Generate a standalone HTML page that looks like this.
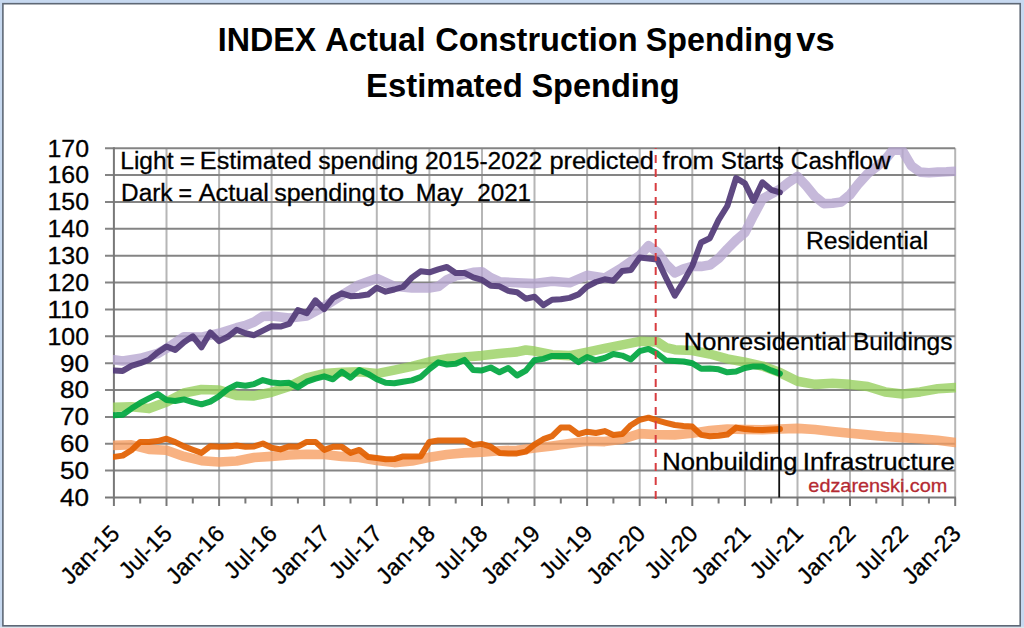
<!DOCTYPE html>
<html><head><meta charset="utf-8"><style>
html,body{margin:0;padding:0;background:#fff;}
svg{display:block;}
</style></head><body>
<svg width="1024" height="628" viewBox="0 0 1024 628">
<rect x="0" y="0" width="1024" height="628" fill="#c7d9f0"/>
<rect x="0" y="626.8" width="1024" height="1.2" fill="#dfe4ea"/>
<rect x="2.9" y="3.7" width="1017.3" height="622.1" fill="#ffffff" stroke="#5e6875" stroke-width="1.6"/>
<g stroke="#b6b6b6" stroke-width="2"><line x1="166.5" y1="148.2" x2="166.5" y2="497.5"/><line x1="219.1" y1="148.2" x2="219.1" y2="497.5"/><line x1="271.6" y1="148.2" x2="271.6" y2="497.5"/><line x1="324.2" y1="148.2" x2="324.2" y2="497.5"/><line x1="376.8" y1="148.2" x2="376.8" y2="497.5"/><line x1="429.4" y1="148.2" x2="429.4" y2="497.5"/><line x1="482.0" y1="148.2" x2="482.0" y2="497.5"/><line x1="534.5" y1="148.2" x2="534.5" y2="497.5"/><line x1="587.1" y1="148.2" x2="587.1" y2="497.5"/><line x1="639.7" y1="148.2" x2="639.7" y2="497.5"/><line x1="692.3" y1="148.2" x2="692.3" y2="497.5"/><line x1="744.9" y1="148.2" x2="744.9" y2="497.5"/><line x1="797.5" y1="148.2" x2="797.5" y2="497.5"/><line x1="850.0" y1="148.2" x2="850.0" y2="497.5"/><line x1="902.6" y1="148.2" x2="902.6" y2="497.5"/><line x1="955.2" y1="148.2" x2="955.2" y2="497.5"/></g>
<g stroke="#848484" stroke-width="2"><line x1="105" y1="470.6" x2="955.2" y2="470.6"/><line x1="105" y1="443.8" x2="955.2" y2="443.8"/><line x1="105" y1="416.9" x2="955.2" y2="416.9"/><line x1="105" y1="390.0" x2="955.2" y2="390.0"/><line x1="105" y1="363.2" x2="955.2" y2="363.2"/><line x1="105" y1="336.3" x2="955.2" y2="336.3"/><line x1="105" y1="309.4" x2="955.2" y2="309.4"/><line x1="105" y1="282.5" x2="955.2" y2="282.5"/><line x1="105" y1="255.7" x2="955.2" y2="255.7"/><line x1="105" y1="228.8" x2="955.2" y2="228.8"/><line x1="105" y1="201.9" x2="955.2" y2="201.9"/><line x1="105" y1="175.1" x2="955.2" y2="175.1"/><line x1="105" y1="148.2" x2="955.2" y2="148.2"/></g>
<g stroke="#787878" stroke-width="2"><line x1="105" y1="497.5" x2="956" y2="497.5"/><line x1="113.9" y1="147.2" x2="113.9" y2="506.0"/><line x1="166.5" y1="497.5" x2="166.5" y2="506.0"/><line x1="219.1" y1="497.5" x2="219.1" y2="506.0"/><line x1="271.6" y1="497.5" x2="271.6" y2="506.0"/><line x1="324.2" y1="497.5" x2="324.2" y2="506.0"/><line x1="376.8" y1="497.5" x2="376.8" y2="506.0"/><line x1="429.4" y1="497.5" x2="429.4" y2="506.0"/><line x1="482.0" y1="497.5" x2="482.0" y2="506.0"/><line x1="534.5" y1="497.5" x2="534.5" y2="506.0"/><line x1="587.1" y1="497.5" x2="587.1" y2="506.0"/><line x1="639.7" y1="497.5" x2="639.7" y2="506.0"/><line x1="692.3" y1="497.5" x2="692.3" y2="506.0"/><line x1="744.9" y1="497.5" x2="744.9" y2="506.0"/><line x1="797.5" y1="497.5" x2="797.5" y2="506.0"/><line x1="850.0" y1="497.5" x2="850.0" y2="506.0"/><line x1="902.6" y1="497.5" x2="902.6" y2="506.0"/><line x1="955.2" y1="497.5" x2="955.2" y2="506.0"/><line x1="140.2" y1="497.5" x2="140.2" y2="503.5"/><line x1="192.8" y1="497.5" x2="192.8" y2="503.5"/><line x1="245.4" y1="497.5" x2="245.4" y2="503.5"/><line x1="297.9" y1="497.5" x2="297.9" y2="503.5"/><line x1="350.5" y1="497.5" x2="350.5" y2="503.5"/><line x1="403.1" y1="497.5" x2="403.1" y2="503.5"/><line x1="455.7" y1="497.5" x2="455.7" y2="503.5"/><line x1="508.3" y1="497.5" x2="508.3" y2="503.5"/><line x1="560.8" y1="497.5" x2="560.8" y2="503.5"/><line x1="613.4" y1="497.5" x2="613.4" y2="503.5"/><line x1="666.0" y1="497.5" x2="666.0" y2="503.5"/><line x1="718.6" y1="497.5" x2="718.6" y2="503.5"/><line x1="771.2" y1="497.5" x2="771.2" y2="503.5"/><line x1="823.7" y1="497.5" x2="823.7" y2="503.5"/><line x1="876.3" y1="497.5" x2="876.3" y2="503.5"/><line x1="928.9" y1="497.5" x2="928.9" y2="503.5"/></g>
<defs><clipPath id="pc"><rect x="113" y="147.2" width="843" height="351.3"/></clipPath></defs>
<g clip-path="url(#pc)" fill="none" stroke-linejoin="round" stroke-linecap="round">
<polyline points="113.9,359.7 122.7,361.0 140.2,358.3 157.7,353.5 166.5,348.4 184.0,336.8 201.5,337.1 219.1,333.3 236.6,327.7 245.4,325.5 254.1,322.0 262.9,316.4 271.6,316.1 289.2,318.0 306.7,315.9 324.2,306.5 341.8,295.2 359.3,284.7 376.8,278.5 394.3,286.3 411.9,287.9 429.4,287.9 438.2,286.6 446.9,279.9 455.7,275.8 464.4,274.5 473.2,272.3 482.0,271.8 490.7,277.7 499.5,281.7 517.0,282.8 534.5,283.6 552.1,281.2 569.6,282.8 587.1,275.3 604.7,278.0 622.2,267.5 639.7,255.4 648.5,245.7 657.2,251.9 666.0,264.0 674.8,272.9 683.5,268.8 692.3,266.4 701.1,266.4 709.8,265.1 718.6,258.4 727.3,249.0 736.1,240.1 744.9,232.6 753.6,215.4 762.4,199.0 771.2,193.9 779.9,189.3 788.7,182.3 797.5,176.4 806.2,185.8 815.0,196.6 823.7,203.6 832.5,203.3 841.3,201.9 850.0,194.7 858.8,183.4 867.6,173.7 876.3,167.0 885.1,159.8 893.9,148.7 902.6,150.9 911.4,165.9 920.1,172.1 928.9,172.7 937.7,172.1 946.4,171.8 955.2,171.3" stroke="#b6a5d0" stroke-opacity="0.78" stroke-width="9.6"/>
<polyline points="113.9,407.2 131.4,406.7 149.0,408.6 166.5,402.1 184.0,393.0 201.5,389.5 219.1,390.0 236.6,395.4 254.1,395.9 271.6,392.2 289.2,386.5 306.7,377.9 324.2,373.6 341.8,372.3 359.3,371.8 376.8,373.6 394.3,370.1 411.9,366.4 429.4,361.8 446.9,358.6 464.4,357.0 482.0,355.6 499.5,353.5 517.0,351.9 525.8,350.0 534.5,351.1 552.1,354.8 569.6,355.6 587.1,352.1 604.7,348.4 622.2,344.9 639.7,341.4 657.2,341.9 666.0,347.6 674.8,349.7 692.3,350.5 709.8,354.0 727.3,358.9 744.9,362.1 762.4,366.1 779.9,372.6 797.5,381.2 815.0,384.4 832.5,383.3 850.0,384.4 867.6,386.5 885.1,391.9 902.6,394.1 920.1,391.9 937.7,388.7 955.2,387.6" stroke="#95ce5b" stroke-opacity="0.78" stroke-width="9.6"/>
<polyline points="113.9,445.4 131.4,444.8 149.0,449.4 166.5,450.2 184.0,456.4 201.5,460.7 219.1,462.0 236.6,461.0 254.1,457.5 271.6,456.4 289.2,455.0 306.7,454.2 324.2,454.5 341.8,456.4 359.3,457.5 376.8,460.4 394.3,462.6 411.9,461.0 429.4,457.2 446.9,454.5 464.4,452.9 482.0,452.1 499.5,450.7 517.0,450.2 534.5,448.1 552.1,445.9 569.6,443.5 587.1,441.3 604.7,441.6 622.2,439.2 639.7,433.6 657.2,434.6 674.8,434.9 692.3,433.3 709.8,430.6 727.3,429.0 744.9,429.5 762.4,429.8 779.9,429.0 797.5,428.4 815.0,429.5 832.5,431.4 850.0,433.3 867.6,434.9 885.1,436.5 902.6,437.6 920.1,438.7 937.7,440.3 955.2,442.4" stroke="#f69c5f" stroke-opacity="0.78" stroke-width="9.6"/>
<polyline points="113.9,370.4 122.7,370.9 131.4,365.8 140.2,363.2 149.0,359.7 157.7,352.4 166.5,346.5 175.2,350.0 184.0,342.2 192.8,336.3 201.5,347.3 210.3,332.5 219.1,341.1 227.8,336.8 236.6,329.8 245.4,333.3 254.1,335.2 262.9,330.6 271.6,326.3 280.4,326.6 289.2,323.9 297.9,310.0 306.7,313.2 315.5,300.3 324.2,309.1 333.0,297.9 341.8,293.3 350.5,296.2 359.3,295.7 368.0,294.6 376.8,287.7 385.6,291.7 394.3,289.5 403.1,286.8 411.9,277.7 420.6,271.3 429.4,272.3 438.2,269.4 446.9,267.0 455.7,272.9 464.4,272.9 473.2,277.4 482.0,279.9 490.7,285.8 499.5,286.3 508.3,290.9 517.0,292.2 525.8,298.7 534.5,296.8 543.3,305.1 552.1,299.7 560.8,299.2 569.6,297.9 578.4,294.4 587.1,286.6 595.9,282.0 604.7,279.3 613.4,280.7 622.2,271.0 630.9,269.9 639.7,257.6 648.5,258.4 657.2,259.4 666.0,278.0 674.8,295.7 683.5,281.7 692.3,265.9 701.1,242.5 709.8,238.2 718.6,219.9 727.3,206.0 736.1,178.0 744.9,183.4 753.6,200.9 762.4,182.3 771.2,189.8 779.9,192.3" stroke="#513a77" stroke-opacity="0.92" stroke-width="6.0"/>
<polyline points="113.9,415.3 122.7,414.7 131.4,408.6 140.2,402.9 149.0,398.4 157.7,394.1 166.5,400.0 175.2,401.0 184.0,399.4 192.8,402.1 201.5,404.3 210.3,401.6 219.1,396.2 227.8,389.2 236.6,384.6 245.4,385.7 254.1,384.1 262.9,380.1 271.6,382.5 280.4,383.3 289.2,382.8 297.9,387.3 306.7,381.7 315.5,378.7 324.2,376.3 333.0,379.3 341.8,371.8 350.5,377.7 359.3,370.1 368.0,373.9 376.8,379.3 385.6,382.8 394.3,383.3 403.1,381.7 411.9,380.4 420.6,377.1 429.4,369.1 438.2,362.3 446.9,364.5 455.7,363.7 464.4,359.9 473.2,369.9 482.0,370.4 490.7,367.5 499.5,372.3 508.3,368.0 517.0,375.5 525.8,370.7 534.5,360.2 543.3,358.9 552.1,355.9 560.8,355.9 569.6,355.9 578.4,362.1 587.1,357.0 595.9,360.2 604.7,358.0 613.4,354.0 622.2,355.6 630.9,359.4 639.7,351.1 648.5,348.9 657.2,353.5 666.0,360.5 674.8,361.0 683.5,361.5 692.3,363.2 701.1,368.8 709.8,368.5 718.6,369.3 727.3,372.3 736.1,371.5 744.9,368.0 753.6,366.4 762.4,366.6 771.2,370.4 779.9,373.6" stroke="#00a640" stroke-opacity="0.92" stroke-width="6.0"/>
<polyline points="113.9,456.9 122.7,455.6 131.4,450.2 140.2,441.9 149.0,441.9 157.7,441.1 166.5,438.7 175.2,442.1 184.0,446.4 192.8,449.7 201.5,452.9 210.3,446.2 219.1,446.7 227.8,446.4 236.6,445.6 245.4,446.7 254.1,446.4 262.9,443.5 271.6,447.8 280.4,449.4 289.2,446.4 297.9,446.7 306.7,441.9 315.5,441.9 324.2,449.9 333.0,446.7 341.8,446.7 350.5,452.9 359.3,449.9 368.0,456.9 376.8,458.0 385.6,459.3 394.3,459.1 403.1,456.4 411.9,456.4 420.6,456.4 429.4,441.9 438.2,440.5 446.9,440.5 455.7,440.5 464.4,440.5 473.2,445.1 482.0,444.0 490.7,446.7 499.5,452.9 508.3,453.4 517.0,453.4 525.8,451.6 534.5,444.6 543.3,439.2 552.1,436.2 560.8,427.6 569.6,427.6 578.4,434.1 587.1,431.7 595.9,433.0 604.7,431.1 613.4,434.9 622.2,434.1 630.9,425.2 639.7,419.8 648.5,417.7 657.2,420.4 666.0,422.8 674.8,425.0 683.5,426.0 692.3,426.6 701.1,434.9 709.8,436.2 718.6,435.7 727.3,434.6 736.1,427.6 744.9,429.0 753.6,429.8 762.4,430.1 771.2,429.5 779.9,429.0" stroke="#e25f00" stroke-opacity="0.92" stroke-width="6.0"/>
</g>
<line x1="655.7" y1="499.0" x2="655.7" y2="148" stroke="#d83c40" stroke-width="2" stroke-dasharray="8 6"/>
<line x1="779.2" y1="146.7" x2="779.2" y2="497.5" stroke="#111" stroke-width="1.8"/>
<g font-family="'Liberation Sans', sans-serif">
<text x="217.85" y="51.3" font-size="33" text-anchor="start" fill="#000" font-weight="bold" textLength="98.49" lengthAdjust="spacingAndGlyphs" >INDEX</text>
<text x="325.0" y="51.3" font-size="33" text-anchor="start" fill="#000" font-weight="bold" textLength="100.55" lengthAdjust="spacingAndGlyphs" >Actual</text>
<text x="435.31" y="51.3" font-size="33" text-anchor="start" fill="#000" font-weight="bold" textLength="202.28" lengthAdjust="spacingAndGlyphs" >Construction</text>
<text x="645.82" y="51.3" font-size="33" text-anchor="start" fill="#000" font-weight="bold" textLength="146.85" lengthAdjust="spacingAndGlyphs" >Spending</text>
<text x="796.3" y="51.3" font-size="33" text-anchor="start" fill="#000" font-weight="bold" textLength="38.5" lengthAdjust="spacingAndGlyphs" >vs</text>
<text x="366.11" y="96.9" font-size="33" text-anchor="start" fill="#000" font-weight="bold" textLength="156.69" lengthAdjust="spacingAndGlyphs" >Estimated</text>
<text x="531.41" y="96.9" font-size="33" text-anchor="start" fill="#000" font-weight="bold" textLength="148.28" lengthAdjust="spacingAndGlyphs" >Spending</text>
<text x="120.31" y="168.8" font-size="23.5" text-anchor="start" fill="#000" font-weight="normal" stroke="#000" stroke-width="0.3" textLength="53.15" lengthAdjust="spacingAndGlyphs" >Light</text>
<text x="179.8" y="168.8" font-size="23.5" text-anchor="start" fill="#000" font-weight="normal" stroke="#000" stroke-width="0.3" textLength="15.11" lengthAdjust="spacingAndGlyphs" >=</text>
<text x="199.86" y="168.8" font-size="23.5" text-anchor="start" fill="#000" font-weight="normal" stroke="#000" stroke-width="0.3" textLength="111.85" lengthAdjust="spacingAndGlyphs" >Estimated</text>
<text x="318.15" y="168.8" font-size="23.5" text-anchor="start" fill="#000" font-weight="normal" stroke="#000" stroke-width="0.3" textLength="100.11" lengthAdjust="spacingAndGlyphs" >spending</text>
<text x="424.96" y="168.8" font-size="23.5" text-anchor="start" fill="#000" font-weight="normal" stroke="#000" stroke-width="0.3" textLength="117.19" lengthAdjust="spacingAndGlyphs" >2015-2022</text>
<text x="549.42" y="168.8" font-size="23.5" text-anchor="start" fill="#000" font-weight="normal" stroke="#000" stroke-width="0.3" textLength="104.4" lengthAdjust="spacingAndGlyphs" >predicted</text>
<text x="662.6" y="168.8" font-size="23.5" text-anchor="start" fill="#000" font-weight="normal" stroke="#000" stroke-width="0.3" textLength="51.19" lengthAdjust="spacingAndGlyphs" >from</text>
<text x="720.87" y="168.8" font-size="23.5" text-anchor="start" fill="#000" font-weight="normal" stroke="#000" stroke-width="0.3" textLength="63.03" lengthAdjust="spacingAndGlyphs" >Starts</text>
<text x="790.87" y="168.8" font-size="23.5" text-anchor="start" fill="#000" font-weight="normal" stroke="#000" stroke-width="0.3" textLength="99.78" lengthAdjust="spacingAndGlyphs" >Cashflow</text>
<text x="121.13" y="200.9" font-size="23.5" text-anchor="start" fill="#000" font-weight="normal" stroke="#000" stroke-width="0.3" textLength="51.42" lengthAdjust="spacingAndGlyphs" >Dark</text>
<text x="178.52" y="200.9" font-size="23.5" text-anchor="start" fill="#000" font-weight="normal" stroke="#000" stroke-width="0.3" textLength="13.51" lengthAdjust="spacingAndGlyphs" >=</text>
<text x="198.8" y="200.9" font-size="23.5" text-anchor="start" fill="#000" font-weight="normal" stroke="#000" stroke-width="0.3" textLength="70.13" lengthAdjust="spacingAndGlyphs" >Actual</text>
<text x="274.24" y="200.9" font-size="23.5" text-anchor="start" fill="#000" font-weight="normal" stroke="#000" stroke-width="0.3" textLength="101.34" lengthAdjust="spacingAndGlyphs" >spending</text>
<text x="379.6" y="200.9" font-size="23.5" text-anchor="start" fill="#000" font-weight="normal" stroke="#000" stroke-width="0.3" textLength="24.77" lengthAdjust="spacingAndGlyphs" >to</text>
<text x="415.77" y="200.9" font-size="23.5" text-anchor="start" fill="#000" font-weight="normal" stroke="#000" stroke-width="0.3" textLength="47.3" lengthAdjust="spacingAndGlyphs" >May</text>
<text x="477.27" y="200.9" font-size="23.5" text-anchor="start" fill="#000" font-weight="normal" stroke="#000" stroke-width="0.3" textLength="53.75" lengthAdjust="spacingAndGlyphs" >2021</text>
<text x="806.0" y="249" font-size="23.5" text-anchor="start" fill="#000" font-weight="normal" stroke="#000" stroke-width="0.3" textLength="122.13" lengthAdjust="spacingAndGlyphs" >Residential</text>
<text x="683.83" y="350.2" font-size="23.5" text-anchor="start" fill="#000" font-weight="normal" stroke="#000" stroke-width="0.3" textLength="162.91" lengthAdjust="spacingAndGlyphs" >Nonresidential</text>
<text x="852.91" y="350.2" font-size="23.5" text-anchor="start" fill="#000" font-weight="normal" stroke="#000" stroke-width="0.3" textLength="99.58" lengthAdjust="spacingAndGlyphs" >Buildings</text>
<text x="662.22" y="470.2" font-size="23.5" text-anchor="start" fill="#000" font-weight="normal" stroke="#000" stroke-width="0.3" textLength="135.2" lengthAdjust="spacingAndGlyphs" >Nonbuilding</text>
<text x="802.8" y="470.2" font-size="23.5" text-anchor="start" fill="#000" font-weight="normal" stroke="#000" stroke-width="0.3" textLength="152.2" lengthAdjust="spacingAndGlyphs" >Infrastructure</text>
<text x="808.36" y="491.8" font-size="19" text-anchor="start" fill="#b52a32" font-weight="normal" stroke="#b52a32" stroke-width="0.3" textLength="139.0" lengthAdjust="spacingAndGlyphs" >edzarenski.com</text>
<text x="89" y="505.8" font-size="23.5" text-anchor="end" fill="#000" font-weight="normal" stroke="#000" stroke-width="0.3" textLength="29" lengthAdjust="spacingAndGlyphs" >40</text>
<text x="89" y="478.9" font-size="23.5" text-anchor="end" fill="#000" font-weight="normal" stroke="#000" stroke-width="0.3" textLength="29" lengthAdjust="spacingAndGlyphs" >50</text>
<text x="89" y="452.1" font-size="23.5" text-anchor="end" fill="#000" font-weight="normal" stroke="#000" stroke-width="0.3" textLength="29" lengthAdjust="spacingAndGlyphs" >60</text>
<text x="89" y="425.2" font-size="23.5" text-anchor="end" fill="#000" font-weight="normal" stroke="#000" stroke-width="0.3" textLength="29" lengthAdjust="spacingAndGlyphs" >70</text>
<text x="89" y="398.3" font-size="23.5" text-anchor="end" fill="#000" font-weight="normal" stroke="#000" stroke-width="0.3" textLength="29" lengthAdjust="spacingAndGlyphs" >80</text>
<text x="89" y="371.5" font-size="23.5" text-anchor="end" fill="#000" font-weight="normal" stroke="#000" stroke-width="0.3" textLength="29" lengthAdjust="spacingAndGlyphs" >90</text>
<text x="89" y="344.6" font-size="23.5" text-anchor="end" fill="#000" font-weight="normal" stroke="#000" stroke-width="0.3" textLength="41.5" lengthAdjust="spacingAndGlyphs" >100</text>
<text x="89" y="317.7" font-size="23.5" text-anchor="end" fill="#000" font-weight="normal" stroke="#000" stroke-width="0.3" textLength="41.5" lengthAdjust="spacingAndGlyphs" >110</text>
<text x="89" y="290.8" font-size="23.5" text-anchor="end" fill="#000" font-weight="normal" stroke="#000" stroke-width="0.3" textLength="41.5" lengthAdjust="spacingAndGlyphs" >120</text>
<text x="89" y="264.0" font-size="23.5" text-anchor="end" fill="#000" font-weight="normal" stroke="#000" stroke-width="0.3" textLength="41.5" lengthAdjust="spacingAndGlyphs" >130</text>
<text x="89" y="237.1" font-size="23.5" text-anchor="end" fill="#000" font-weight="normal" stroke="#000" stroke-width="0.3" textLength="41.5" lengthAdjust="spacingAndGlyphs" >140</text>
<text x="89" y="210.2" font-size="23.5" text-anchor="end" fill="#000" font-weight="normal" stroke="#000" stroke-width="0.3" textLength="41.5" lengthAdjust="spacingAndGlyphs" >150</text>
<text x="89" y="183.4" font-size="23.5" text-anchor="end" fill="#000" font-weight="normal" stroke="#000" stroke-width="0.3" textLength="41.5" lengthAdjust="spacingAndGlyphs" >160</text>
<text x="89" y="156.5" font-size="23.5" text-anchor="end" fill="#000" font-weight="normal" stroke="#000" stroke-width="0.3" textLength="41.5" lengthAdjust="spacingAndGlyphs" >170</text>
<text x="0" y="0" font-size="23.5" stroke="#000" stroke-width="0.3" text-anchor="end" transform="translate(120.9,535) rotate(-45)">Jan-15</text>
<text x="0" y="0" font-size="23.5" stroke="#000" stroke-width="0.3" text-anchor="end" transform="translate(173.5,535) rotate(-45)">Jul-15</text>
<text x="0" y="0" font-size="23.5" stroke="#000" stroke-width="0.3" text-anchor="end" transform="translate(226.1,535) rotate(-45)">Jan-16</text>
<text x="0" y="0" font-size="23.5" stroke="#000" stroke-width="0.3" text-anchor="end" transform="translate(278.6,535) rotate(-45)">Jul-16</text>
<text x="0" y="0" font-size="23.5" stroke="#000" stroke-width="0.3" text-anchor="end" transform="translate(331.2,535) rotate(-45)">Jan-17</text>
<text x="0" y="0" font-size="23.5" stroke="#000" stroke-width="0.3" text-anchor="end" transform="translate(383.8,535) rotate(-45)">Jul-17</text>
<text x="0" y="0" font-size="23.5" stroke="#000" stroke-width="0.3" text-anchor="end" transform="translate(436.4,535) rotate(-45)">Jan-18</text>
<text x="0" y="0" font-size="23.5" stroke="#000" stroke-width="0.3" text-anchor="end" transform="translate(489.0,535) rotate(-45)">Jul-18</text>
<text x="0" y="0" font-size="23.5" stroke="#000" stroke-width="0.3" text-anchor="end" transform="translate(541.5,535) rotate(-45)">Jan-19</text>
<text x="0" y="0" font-size="23.5" stroke="#000" stroke-width="0.3" text-anchor="end" transform="translate(594.1,535) rotate(-45)">Jul-19</text>
<text x="0" y="0" font-size="23.5" stroke="#000" stroke-width="0.3" text-anchor="end" transform="translate(646.7,535) rotate(-45)">Jan-20</text>
<text x="0" y="0" font-size="23.5" stroke="#000" stroke-width="0.3" text-anchor="end" transform="translate(699.3,535) rotate(-45)">Jul-20</text>
<text x="0" y="0" font-size="23.5" stroke="#000" stroke-width="0.3" text-anchor="end" transform="translate(751.9,535) rotate(-45)">Jan-21</text>
<text x="0" y="0" font-size="23.5" stroke="#000" stroke-width="0.3" text-anchor="end" transform="translate(804.5,535) rotate(-45)">Jul-21</text>
<text x="0" y="0" font-size="23.5" stroke="#000" stroke-width="0.3" text-anchor="end" transform="translate(857.0,535) rotate(-45)">Jan-22</text>
<text x="0" y="0" font-size="23.5" stroke="#000" stroke-width="0.3" text-anchor="end" transform="translate(909.6,535) rotate(-45)">Jul-22</text>
<text x="0" y="0" font-size="23.5" stroke="#000" stroke-width="0.3" text-anchor="end" transform="translate(962.2,535) rotate(-45)">Jan-23</text>
</g>
</svg>
</body></html>
